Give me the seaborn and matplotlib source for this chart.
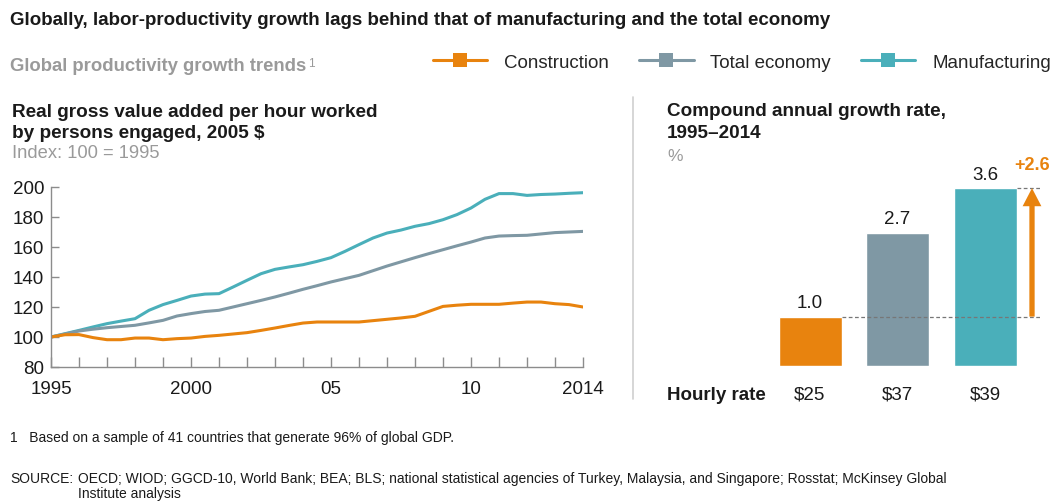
import numpy as np
import pandas as pd
import matplotlib
matplotlib.use("Agg")
import matplotlib.pyplot as plt
from matplotlib.lines import Line2D
import seaborn as sns

# ---- data -------------------------------------------------------------
# productivity index (100 = 1995), read at half-year steps 1995 .. 2014
years = [1995 + 0.5 * i for i in range(39)]
construction = [100.0, 101.5, 101.6, 99.6, 98.2, 98.2, 99.3, 99.3, 98.2, 98.9,
                99.3, 100.4, 101.1, 102.0, 102.9, 104.4, 106.0, 107.7, 109.3, 110.0,
                110.0, 110.0, 110.0, 110.9, 111.8, 112.7, 113.8, 117.1, 120.4, 121.2,
                121.8, 121.8, 121.8, 122.6, 123.3, 123.3, 122.2, 121.6, 120.0]
total_economy = [100.0, 102.0, 104.0, 105.2, 106.2, 107.0, 107.8, 109.4, 111.1, 114.0,
                 115.6, 117.0, 117.8, 120.0, 122.2, 124.4, 126.7, 129.2, 131.8, 134.2,
                 136.7, 138.9, 141.1, 144.2, 147.3, 150.1, 152.9, 155.6, 158.2, 160.8,
                 163.3, 166.0, 167.3, 167.6, 167.8, 168.7, 169.6, 170.0, 170.4]
manufacturing = [100.0, 102.2, 104.4, 106.7, 108.9, 110.6, 112.2, 117.8, 121.6, 124.4,
                 127.3, 128.6, 128.9, 133.3, 137.8, 142.2, 145.1, 146.7, 148.2, 150.4,
                 152.9, 157.1, 161.6, 166.0, 169.3, 171.3, 173.8, 175.6, 178.2, 181.6,
                 186.0, 191.8, 195.6, 195.6, 194.4, 195.0, 195.3, 195.8, 196.2]

sectors = ["Construction", "Total economy", "Manufacturing"]
cagr = [1.0, 2.7, 3.6]                     # % per year, 1995-2014
hourly_rate = ["$25", "$37", "$39"]

year_ticks = list(range(1995, 2015))
year_tick_labels = ["1995", "", "", "", "", "2000", "", "", "", "", "05",
                    "", "", "", "", "10", "", "", "", "2014"]
index_ticks = [80, 100, 120, 140, 160, 180, 200]

colors = {"Construction": "#E8830E", "Total economy": "#7F98A4", "Manufacturing": "#4AAFBA"}

# ---- style ------------------------------------------------------------
sns.set_theme(style="white")
plt.rcParams["font.family"] = ["Liberation Sans", "DejaVu Sans"]
plt.rcParams["axes.linewidth"] = 1.0

W, H = 1055, 502
fig = plt.figure(figsize=(W / 100, H / 100), dpi=100)


def fx(px):
    return px / W


def fy(py):
    return 1 - py / H


def box(x0, y0, x1, y1):
    return [fx(x0), fy(y1), (x1 - x0) / W, (y1 - y0) / H]


DARK = "#1a1a1a"
GREY_TXT = "#9a9a9a"
AXIS_GREY = "#8c8c8c"

# ---- headers ----------------------------------------------------------
fig.text(fx(10), fy(25), "Globally, labor-productivity growth lags behind that of "
         "manufacturing and the total economy", fontsize=13.5, fontweight="bold",
         color=DARK, va="baseline")
sub = fig.text(fx(10), fy(71), "Global productivity growth trends", fontsize=13.3,
               fontweight="bold", color=GREY_TXT, va="baseline")
fig.text(0, 0, "1", fontsize=8.5, color=GREY_TXT, va="top", ha="left",
         transform=matplotlib.transforms.offset_copy(
             sub.get_transform(), fig=fig, x=0, y=0))
# superscript placed right after the subtitle once its extent is known
fig.canvas.draw()
bb = sub.get_window_extent()
fig.texts[-1].set_position((bb.x1 / W + 1.5 / W, bb.y1 / H))

# legend row
legend_handles = [Line2D([], [], color=colors[s], lw=2.2, marker="s", markersize=10,
                         markeredgewidth=0) for s in sectors]
fig.legend(legend_handles, sectors, loc="center left", bbox_to_anchor=(fx(433), fy(63)),
           ncol=3, frameon=False, fontsize=13.5, handlelength=2.9, handletextpad=0.9,
           columnspacing=1.6, borderaxespad=0, borderpad=0)

# ---- left panel: index lines -----------------------------------------
fig.text(fx(12), fy(117), "Real gross value added per hour worked", fontsize=13.7,
         fontweight="bold", color=DARK, va="baseline")
fig.text(fx(12), fy(138), "by persons engaged, 2005 $", fontsize=13.7,
         fontweight="bold", color=DARK, va="baseline")
fig.text(fx(12), fy(158), "Index: 100 = 1995", fontsize=13.2, color=GREY_TXT,
         va="baseline")

ax = fig.add_axes(box(51, 188, 583, 368))
df = pd.DataFrame({
    "year": years * 3,
    "index": construction + total_economy + manufacturing,
    "sector": ["Construction"] * len(years) + ["Total economy"] * len(years)
              + ["Manufacturing"] * len(years),
})
sns.lineplot(data=df, x="year", y="index", hue="sector", hue_order=sectors[::-1],
             palette=colors, linewidth=2.2, legend=False, ax=ax)
ax.set_xlim(1995, 2014)
ax.set_ylim(80, 200)
ax.set_xticks(year_ticks, labels=year_tick_labels)
ax.set_yticks(index_ticks)
ax.set_xlabel("")
ax.set_ylabel("")
for side in ("top", "right"):
    ax.spines[side].set_visible(False)
for side in ("left", "bottom"):
    ax.spines[side].set_color(AXIS_GREY)
ax.tick_params(axis="x", direction="in", length=7, width=1, color=AXIS_GREY,
               labelsize=13.5, labelcolor=DARK, pad=9, bottom=True)
ax.tick_params(axis="y", direction="in", length=6, width=1, color=AXIS_GREY,
               labelsize=13.5, labelcolor=DARK, pad=5, left=True)
ax.patch.set_alpha(0)

# ---- divider ----------------------------------------------------------
fig.add_artist(Line2D([fx(633), fx(633)], [fy(98), fy(400)], color="#cfcfcf", lw=1.2))

# ---- right panel: CAGR bars ------------------------------------------
fig.text(fx(667), fy(116), "Compound annual growth rate,", fontsize=13.6,
         fontweight="bold", color=DARK, va="baseline")
fig.text(fx(667), fy(138), "1995\u20132014", fontsize=13.6, fontweight="bold",
         color=DARK, va="baseline")
fig.text(fx(667), fy(161), "%", fontsize=12.5, color=GREY_TXT, va="baseline")

PX_BAR = 87.5          # px between bar centres
X0 = 810               # px centre of first bar
PX_UNIT = 49.4         # px per percentage point
left_px, right_px = 640, 1052
top_px, bottom_px = 150, 367
ax2 = fig.add_axes(box(left_px, top_px, right_px, bottom_px))
sns.barplot(x=sectors, y=cagr, hue=sectors, palette=colors, width=0.72,
            legend=False, saturation=1, ax=ax2)
ax2.set_xlim((left_px - X0) / PX_BAR, (right_px - X0) / PX_BAR)
ax2.set_ylim(0, (bottom_px - top_px) / PX_UNIT)
ax2.axis("off")
for cont in ax2.containers:
    ax2.bar_label(cont, fmt="%.1f", padding=4, fontsize=13.5, color=DARK)

half = 0.36
x_end = (1041 - X0) / PX_BAR
ax2.hlines(cagr[0], 0 + half, x_end, colors="#777777", linestyles=(0, (3, 2)), lw=0.9,
           zorder=5)
ax2.hlines(cagr[2], 2 + half, x_end, colors="#777777", linestyles=(0, (3, 2)), lw=0.9,
           zorder=5)
x_arrow = (1032 - X0) / PX_BAR
ax2.annotate("", xy=(x_arrow, cagr[2]), xytext=(x_arrow, cagr[0]),
             arrowprops=dict(facecolor=colors["Construction"], edgecolor="none",
                             width=3.8, headwidth=13.5, headlength=13, shrink=0),
             zorder=6)
ax2.text(x_arrow, (bottom_px - 166) / PX_UNIT, f"+{cagr[2] - cagr[0]:.1f}",
         ha="center", va="center", fontsize=13, fontweight="bold",
         color=colors["Construction"])

# hourly rate row
fig.text(fx(667), fy(400), "Hourly rate", fontsize=13.5, fontweight="bold",
         color=DARK, va="baseline")
for i, r in enumerate(hourly_rate):
    fig.text(fx(X0 + i * PX_BAR), fy(400), r, fontsize=13.5, color=DARK,
             ha="center", va="baseline")

# ---- footnotes --------------------------------------------------------
FOOT = 10.0
fig.text(fx(10), fy(442), "1   Based on a sample of 41 countries that generate 96% of "
         "global GDP.", fontsize=FOOT, color=DARK, va="baseline")
fig.text(fx(10), fy(483), "SOURCE:", fontsize=FOOT, color=DARK, va="baseline")
fig.text(fx(78), fy(483), "OECD; WIOD; GGCD-10, World Bank; BEA; BLS; national "
         "statistical agencies of Turkey, Malaysia, and Singapore; Rosstat; McKinsey "
         "Global", fontsize=FOOT, color=DARK, va="baseline")
fig.text(fx(78), fy(498), "Institute analysis", fontsize=FOOT, color=DARK,
         va="baseline")

fig.savefig("out.png", dpi=100)
